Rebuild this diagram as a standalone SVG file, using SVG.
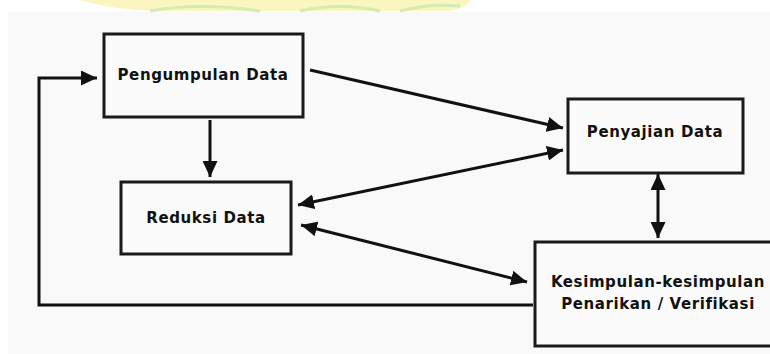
<svg xmlns="http://www.w3.org/2000/svg" width="770" height="354" viewBox="0 0 770 354">
  <defs>
    <style>
      .box { fill: #fbfbfb; stroke: #1a1a1a; stroke-width: 3; }
      .lbl { font-family: "DejaVu Sans", "Liberation Sans", sans-serif; font-weight: bold; font-size: 15px; letter-spacing: 0.6px; fill: #111; text-anchor: middle; }
      .conn { stroke: #111; stroke-width: 3; fill: none; }
    </style>
    <marker id="ah" viewBox="0 0 16 15" refX="16" refY="7.5" markerWidth="16" markerHeight="15" markerUnits="userSpaceOnUse" orient="auto-start-reverse">
      <path d="M0,0 L16,7.5 L0,15 Z" fill="#111"/>
    </marker>
  </defs>
  <rect x="0" y="0" width="770" height="354" fill="#ffffff"/>
  <rect x="8" y="12" width="762" height="342" fill="#f9f9f9"/>
  <g id="watermark">
    <path d="M80,0 Q120,12 170,11 L450,11 Q470,6 470,0 Z" fill="#fbf4b8" opacity="0.9"/>
    <path d="M150,11 Q200,2 260,11 M300,11 Q340,2 380,11 M400,11 Q430,3 460,6" stroke="#d3ebb5" stroke-width="3" fill="none"/>
  </g>
  <g id="connectors">
    <line class="conn" x1="210" y1="120" x2="210" y2="177" marker-end="url(#ah)"/>
    <line class="conn" x1="310" y1="70" x2="563" y2="128" marker-end="url(#ah)"/>
    <line class="conn" x1="298" y1="205" x2="563" y2="150" marker-start="url(#ah)" marker-end="url(#ah)"/>
    <line class="conn" x1="301" y1="225" x2="527" y2="282" marker-start="url(#ah)" marker-end="url(#ah)"/>
    <line class="conn" x1="658" y1="174" x2="658" y2="238" marker-start="url(#ah)" marker-end="url(#ah)"/>
    <polyline class="conn" points="533,305 39,305 39,78 97,78" marker-end="url(#ah)"/>
  </g>
  <g id="pengumpulan">
    <rect class="box" x="104" y="34" width="199" height="83"/>
    <text class="lbl" x="203" y="80">Pengumpulan Data</text>
  </g>
  <g id="reduksi">
    <rect class="box" x="121" y="182" width="170" height="72"/>
    <text class="lbl" x="206" y="223">Reduksi Data</text>
  </g>
  <g id="penyajian">
    <rect class="box" x="568" y="99" width="175" height="74"/>
    <text class="lbl" x="655" y="137">Penyajian Data</text>
  </g>
  <g id="kesimpulan">
    <rect class="box" x="535" y="242" width="250" height="104"/>
    <text class="lbl" x="658" y="287">Kesimpulan-kesimpulan</text>
    <text class="lbl" x="658" y="309">Penarikan / Verifikasi</text>
  </g>
</svg>
